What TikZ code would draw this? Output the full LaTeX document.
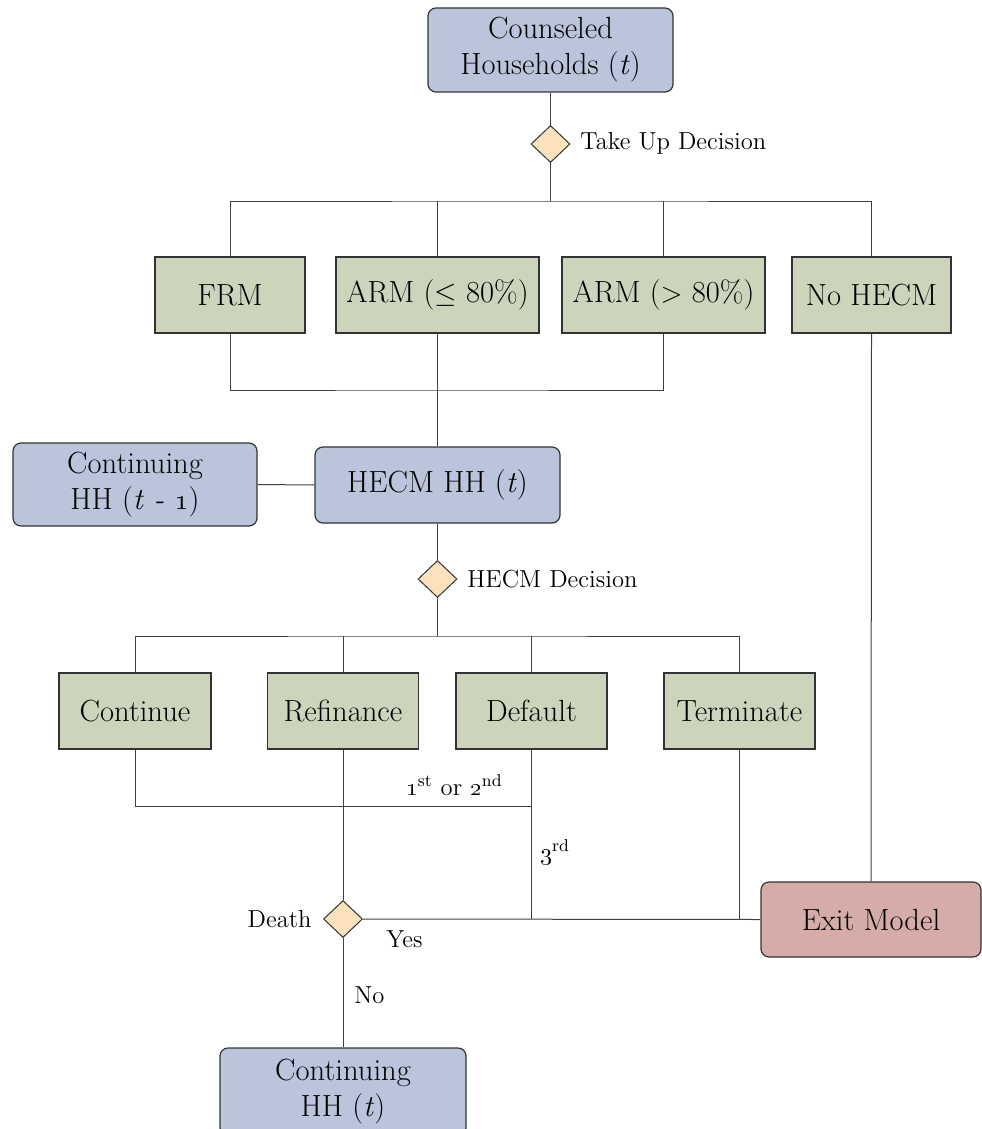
\documentclass[tikz,border=0pt]{standalone}
\usetikzlibrary{shapes.geometric}
\definecolor{hhblue}{RGB}{186,197,219}
\definecolor{optgreen}{RGB}{204,212,188}
\definecolor{decpeach}{RGB}{252,226,188}
\definecolor{exitred}{RGB}{213,172,168}
\begin{document}
\begin{tikzpicture}[x=0.5pt,y=-0.5pt,
 box/.style={draw=black!80, line width=0.6pt, align=center, inner sep=0pt, font=\fontsize{15.3}{18}\selectfont},
 hh/.style={box, rounded corners=4pt, fill=hhblue},
 opt/.style={box, fill=optgreen, minimum height=38pt},
 dec/.style={diamond, draw=black!80, line width=0.5pt, fill=decpeach, minimum width=19.5pt, minimum height=18.5pt, inner sep=0pt},
 lab/.style={font=\fontsize{12.3}{14}\selectfont, inner sep=0pt},
 conn/.style={draw=black!75, line width=0.5pt}]
\useasboundingbox (0,0) rectangle (981,1129);
% nodes
\node[hh, minimum width=122.5pt, minimum height=42pt] (cou) at (550.5,50) {Counseled\\Households (\textit{t})};
\node[dec] (d1) at (550.5,144) {};
\node[lab, anchor=west] (l1) at (580,143) {Take Up Decision};
\node[opt, minimum width=75pt] (frm) at (230,295) {FRM};
\node[opt, minimum width=101.5pt] (arml) at (437.5,295) {ARM ($\leq$ 80\%)};
\node[opt, minimum width=101.5pt] (armg) at (663.5,295) {ARM ($>$ 80\%)};
\node[opt, minimum width=79.5pt] (nohecm) at (871.5,295) {No HECM};
\coordinate (j1) at (550.5,201);
\coordinate (j2) at (437.5,390);
\node[hh, minimum width=122pt, minimum height=41.5pt] (cont1) at (135,484.5) {Continuing\\HH (\textit{t - \oldstylenums{1}})};
\node[hh, minimum width=122.5pt, minimum height=38pt] (hecm) at (437.5,485) {HECM HH (\textit{t})};
\node[dec] (d2) at (437.5,579) {};
\node[lab, anchor=west] (l2) at (467,579) {HECM Decision};
\coordinate (j3) at (437.5,636);
\node[opt, minimum width=76pt] (cont) at (135,711) {Continue};
\node[opt, minimum width=75.5pt] (refi) at (343,711) {Refinance};
\node[opt, minimum width=75.5pt] (dflt) at (531.5,711) {Default};
\node[opt, minimum width=75.5pt] (term) at (739.5,711) {Terminate};
\coordinate (j4) at (531.5,806);
\node[dec] (death) at (343,919) {};
\node[box, rounded corners=4pt, fill=exitred, minimum width=110pt, minimum height=37.5pt] (exit) at (871,919.5) {Exit Model};
\node[hh, minimum width=123pt, minimum height=44pt] (contt) at (343,1092) {Continuing\\HH (\textit{t})};
% labels
\node[lab, anchor=base east] (l12) at (503,795) {\oldstylenums{1}\textsuperscript{st} or \oldstylenums{2}\textsuperscript{nd}};
\node[lab, anchor=base west] (l3) at (540,860) {\oldstylenums{3}\textsuperscript{rd}};
\node[lab, anchor=east] (ldeath) at (312,919) {Death};
\node[lab, anchor=west] (lyes) at (386,939) {Yes};
\node[lab, anchor=west] (lno) at (354,995) {No};
% connectors
\draw[conn] (cou) -- (d1);
\draw[conn] (d1) -- (j1);
\draw[conn] (frm.north) |- (j1) -| (nohecm.north);
\draw[conn] (arml.north) -- (arml.north |- j1);
\draw[conn] (armg.north) -- (armg.north |- j1);
\draw[conn] (frm.south) |- (j2) -| (armg.south);
\draw[conn] (arml.south) -- (hecm.north);
\draw[conn] (cont1.east) -- (hecm.west);
\draw[conn] (hecm.south) -- (d2.north);
\draw[conn] (d2.south) -- (j3);
\draw[conn] (cont.north) |- (j3) -| (term.north);
\draw[conn] (refi.north) -- (refi.north |- j3);
\draw[conn] (dflt.north) -- (dflt.north |- j3);
\draw[conn] (cont.south) |- (j4);
\draw[conn] (dflt.south) -- (dflt.south |- death);
\draw[conn] (refi.south) -- (death.north);
\draw[conn] (death.east) -- (exit.west);
\draw[conn] (term.south) -- (term.south |- death);
\draw[conn] (nohecm.south) -- (exit.north);
\draw[conn] (death.south) -- (contt.north);
\end{tikzpicture}
\end{document}
